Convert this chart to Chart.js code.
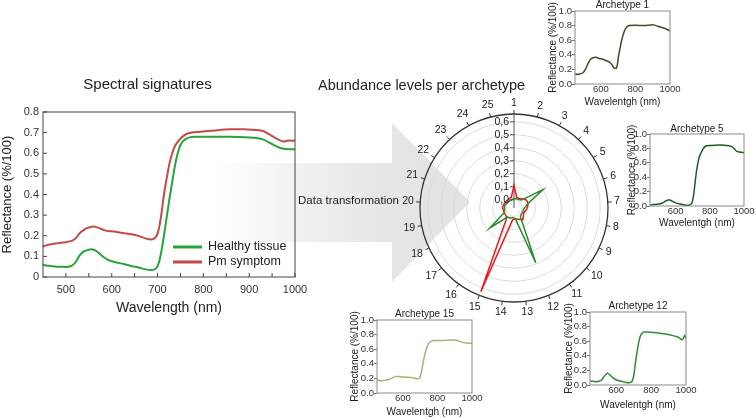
<!DOCTYPE html>
<html><head><meta charset="utf-8">
<script src="https://cdn.jsdelivr.net/npm/chart.js@4.4.1/dist/chart.umd.min.js"></script>
<style>
html,body{margin:0;padding:0;background:#fff;}
#root{position:relative;width:756px;height:419px;overflow:hidden;font-family:"Liberation Sans",Arial,sans-serif;color:#222;}
canvas{position:absolute;}
.txt{position:absolute;white-space:nowrap;}
#arrow{position:absolute;left:215px;top:123px;width:255px;height:159px;
 clip-path:polygon(0 40px,177px 40px,177px 0,255px 79px,177px 159px,177px 119px,0 119px);
 background:linear-gradient(to right,#ffffff 0%,#f0f0f0 35%,#e6e6e6 65%,#e2e2e2 100%);}
</style></head>
<body>
<div id="root">
  <div id="arrow"></div>
  <canvas id="main" width="318" height="250" style="left:0px;top:70px"></canvas>
  <canvas id="radar" width="240" height="240" style="left:394px;top:88px"></canvas>
  <canvas id="a1"></canvas>
  <canvas id="a5"></canvas>
  <canvas id="a15"></canvas>
  <canvas id="a12"></canvas>
  <div class="txt" style="left:318px;top:77px;font-size:14.5px;line-height:16px;">Abundance levels per archetype</div>
  <div class="txt" style="left:298px;top:193px;font-size:11.5px;line-height:14px;">Data transformation</div>
</div>
<script>
// ---------------- DATA ----------------
const wavelengths   = [450,460,470,480,490,500,510,515,520,525,530,540,550,556,565,575,585,595,605,620,640,660,675,685,692,698,703,708,714,720,726,732,738,744,750,756,762,770,780,800,830,860,890,910,925,935,945,955,965,975,985,1000];
const healthyTissue = [0.058,0.055,0.052,0.050,0.050,0.049,0.052,0.058,0.068,0.085,0.105,0.125,0.132,0.134,0.128,0.110,0.092,0.080,0.074,0.066,0.055,0.045,0.037,0.034,0.036,0.045,0.07,0.12,0.2,0.29,0.38,0.46,0.54,0.6,0.64,0.66,0.67,0.677,0.68,0.68,0.68,0.68,0.678,0.675,0.67,0.662,0.65,0.638,0.628,0.622,0.62,0.62];
const pmSymptom     = [0.148,0.155,0.16,0.163,0.166,0.169,0.174,0.178,0.185,0.197,0.212,0.23,0.24,0.244,0.243,0.235,0.226,0.222,0.221,0.215,0.208,0.198,0.186,0.182,0.186,0.2,0.235,0.3,0.4,0.48,0.55,0.6,0.635,0.655,0.67,0.683,0.692,0.698,0.702,0.706,0.712,0.716,0.716,0.713,0.71,0.703,0.69,0.677,0.665,0.657,0.662,0.66];
const mainXTicks = [500,550,600,650,700,750,800,850,900,950,1000];
const mainYTicks = [0,0.1,0.2,0.3,0.4,0.5,0.6,0.7,0.8];

const archetypeLabels  = ['1','2','3','4','5','6','7','8','9','10','11','12','13','14','15','16','17','18','19','20','21','22','23','24','25'];
const abundanceHealthy = [0.01,0.01,0.01,0.02,0.20,0.05,0.02,0.01,0.01,0.01,0.02,0.39,0.02,0.01,0.02,0.02,0.18,0.02,0.01,0.01,0.01,0.0,0.0,0.0,0.0];
const abundancePm      = [0.11,0.02,0.02,0.03,0.05,0.05,0.04,0.03,0.02,0.03,0.05,0.03,0.02,0.03,0.63,0.03,0.02,0.02,0.02,0.025,0.02,0.015,0.015,0.015,0.02];
const radarTicks = [0,0.1,0.2,0.3,0.4,0.5,0.6];
const radarMin = -0.064, radarMax = 0.66;

const arch1Wl   = [450,465,480,495,510,525,540,555,570,590,610,630,650,665,675,688,695,702,712,720,735,750,765,800,850,880,905,930,960,980,1000];
const arch1Refl = [0.14,0.13,0.14,0.15,0.2,0.28,0.34,0.36,0.365,0.35,0.34,0.32,0.3,0.26,0.22,0.215,0.26,0.38,0.5,0.6,0.72,0.78,0.8,0.805,0.8,0.805,0.81,0.79,0.77,0.75,0.73];
const arch5Wl   = [450,470,490,510,530,545,557,570,585,605,625,650,675,694,705,715,723,735,745,760,775,800,830,860,900,928,945,957,975,1000];
const arch5Refl = [0.014,0.02,0.023,0.03,0.05,0.075,0.085,0.08,0.06,0.04,0.028,0.015,0.01,0.035,0.15,0.35,0.5,0.65,0.72,0.79,0.83,0.84,0.845,0.847,0.84,0.825,0.79,0.76,0.75,0.74];
const arch15Wl   = [450,465,480,500,518,535,556,575,595,620,643,665,682,697,708,720,735,749,765,778,810,836,865,894,920,952,975,1000];
const arch15Refl = [0.18,0.17,0.17,0.175,0.185,0.2,0.227,0.225,0.218,0.215,0.214,0.205,0.195,0.205,0.3,0.45,0.6,0.68,0.71,0.72,0.72,0.72,0.725,0.727,0.715,0.69,0.685,0.68];
const arch12Wl   = [450,470,488,505,517,532,550,565,580,603,630,661,680,690,700,710,718,728,737,748,760,790,814,850,890,920,948,965,977,985,992,1000];
const arch12Refl = [0.055,0.05,0.045,0.055,0.068,0.12,0.16,0.136,0.1,0.068,0.05,0.032,0.035,0.045,0.12,0.3,0.43,0.57,0.66,0.71,0.727,0.723,0.72,0.71,0.695,0.68,0.66,0.64,0.62,0.64,0.68,0.64];
const miniXTicks = [600,800,1000];
const miniYTicks = [0,0.2,0.4,0.6,0.8,1.0];

// ---------------- HELPERS ----------------
const FONT = '"Liberation Sans", Arial, sans-serif';
const pts = (xs, ys) => xs.map((x, i) => ({x: x, y: ys[i]}));
const setTicks = arr => s => { s.ticks = arr.map(v => ({value: v})); };

const boxPlugin = {
  id: 'boxPlugin',
  afterDraw(chart, args, o) {
    const {ctx, chartArea: a, scales} = chart;
    ctx.save();
    ctx.strokeStyle = o.color; ctx.lineWidth = o.width;
    ctx.strokeRect(a.left, a.top, a.right - a.left, a.bottom - a.top);
    if (o.tickLen) {
      ctx.beginPath();
      scales.x.ticks.forEach(t => { const px = scales.x.getPixelForValue(t.value); ctx.moveTo(px, a.bottom); ctx.lineTo(px, a.bottom - o.tickLen); });
      scales.y.ticks.forEach(t => { const py = scales.y.getPixelForValue(t.value); ctx.moveTo(a.left, py); ctx.lineTo(a.left + o.tickLen, py); });
      ctx.stroke();
    }
    ctx.restore();
  }
};

const legendPlugin = {
  id: 'inLegend',
  afterDraw(chart, args, o) {
    const ctx = chart.ctx;
    ctx.save();
    ctx.font = o.font; ctx.textBaseline = 'middle'; ctx.textAlign = 'left'; ctx.fillStyle = '#222';
    chart.data.datasets.forEach((ds, i) => {
      const y = o.y + i * o.dy;
      ctx.strokeStyle = ds.borderColor; ctx.lineWidth = 3;
      ctx.beginPath(); ctx.moveTo(o.x, y); ctx.lineTo(o.x + o.len, y); ctx.stroke();
      ctx.fillText(ds.label, o.x + o.len + 6, y);
    });
    ctx.restore();
  }
};

const radarDeco = {
  id: 'radarDeco',
  afterDraw(chart) {
    const s = chart.scales.r, ctx = chart.ctx;
    const R = s.drawingArea, cx = s.xCenter, cy = s.yCenter;
    ctx.save();
    ctx.strokeStyle = '#333'; ctx.lineWidth = 1; ctx.fillStyle = '#222';
    ctx.font = '10.5px ' + FONT; ctx.textAlign = 'center'; ctx.textBaseline = 'middle';
    chart.data.labels.forEach((lab, i) => {
      const p1 = s.getPointPosition(i, R), p2 = s.getPointPosition(i, R + 4);
      ctx.beginPath(); ctx.moveTo(p1.x, p1.y); ctx.lineTo(p2.x, p2.y); ctx.stroke();
      const ang = i * 2 * Math.PI / chart.data.labels.length;
      const hw = ctx.measureText(lab).width / 2, hh = 4.5;
      const d = R + 6 + Math.abs(Math.sin(ang)) * hw + Math.abs(Math.cos(ang)) * hh;
      const p = s.getPointPosition(i, d);
      ctx.fillText(lab, p.x, p.y);
    });
    ctx.textAlign = 'right'; ctx.strokeStyle = '#555';
    radarTicks.forEach(v => {
      const y = cy - s.getDistanceFromCenterForValue(v);
      ctx.beginPath(); ctx.moveTo(cx - 4, y); ctx.lineTo(cx, y); ctx.stroke();
      ctx.fillText(v.toFixed(1).replace('.', ','), cx - 5, y);
    });
    ctx.restore();
  }
};

// ---------------- MAIN CHART ----------------
new Chart(document.getElementById('main'), {
  type: 'line',
  data: { datasets: [
    {label: 'Healthy tissue', data: pts(wavelengths, healthyTissue), borderColor: '#26a33b', borderWidth: 2, pointRadius: 0, tension: 0.3, fill: false},
    {label: 'Pm symptom', data: pts(wavelengths, pmSymptom), borderColor: '#c24b49', borderWidth: 2, pointRadius: 0, tension: 0.3, fill: false}
  ]},
  plugins: [boxPlugin, legendPlugin],
  options: {
    responsive: false, animation: false, events: [],
    layout: {padding: {left: 0, right: 23, top: 0, bottom: 0}},
    plugins: {
      legend: {display: false}, tooltip: {enabled: false},
      title: {display: true, text: 'Spectral signatures', color: '#222', font: {family: FONT, size: 15, weight: 'normal'}, padding: {top: 6, bottom: 18}},
      boxPlugin: {color: '#444', width: 1, tickLen: 4},
      inLegend: {x: 173, y: 177, dy: 15, len: 29, font: '12.5px ' + FONT}
    },
    scales: {
      x: {type: 'linear', min: 450, max: 1000,
          afterBuildTicks: setTicks(mainXTicks), afterFit: s => { s.height = 43; },
          ticks: {callback: v => (v % 100 === 0 ? String(v) : ''), color: '#333', font: {family: FONT, size: 11}, padding: 6, maxRotation: 0, autoSkip: false},
          grid: {display: false, drawTicks: false}, border: {display: false},
          title: {display: true, text: 'Wavelength (nm)', color: '#222', font: {family: FONT, size: 14}, padding: {top: 0, bottom: 3.6}}},
      y: {type: 'linear', min: 0, max: 0.8,
          afterBuildTicks: setTicks(mainYTicks), afterFit: s => { s.width = 43; },
          ticks: {callback: v => (v === 0 ? '0' : v.toFixed(1)), color: '#333', font: {family: FONT, size: 11}, padding: 4, autoSkip: false},
          grid: {display: false, drawTicks: false}, border: {display: false},
          title: {display: true, text: 'Reflectance (%/100)', color: '#222', font: {family: FONT, size: 13, lineHeight: 1}, padding: {top: 1, bottom: 0}}}
    }
  }
});

// ---------------- RADAR ----------------
new Chart(document.getElementById('radar'), {
  type: 'radar',
  data: { labels: archetypeLabels, datasets: [
    {label: 'Healthy tissue', data: abundanceHealthy, borderColor: '#2b8a2b', borderWidth: 1.5, fill: false, pointRadius: 0, tension: 0},
    {label: 'Pm symptom', data: abundancePm, borderColor: '#e8191f', borderWidth: 1.5, fill: false, pointRadius: 0, tension: 0}
  ]},
  plugins: [radarDeco],
  options: {
    responsive: false, animation: false, events: [],
    layout: {padding: 26},
    plugins: {legend: {display: false}, tooltip: {enabled: false}},
    scales: { r: {
      min: radarMin, max: radarMax, startAngle: 0,
      afterBuildTicks: setTicks(radarTicks.concat([radarMax])),
      ticks: {display: false},
      pointLabels: {display: false},
      grid: {circular: true,
             color: c => (c.index === radarTicks.length ? '#333' : '#dadada'),
             lineWidth: c => (c.index === radarTicks.length ? 1.3 : 1)},
      angleLines: {display: true, color: c => (c.index === 0 ? '#555' : 'rgba(0,0,0,0)'), lineWidth: 1}
    }}
  }
});

// ---------------- ARCHETYPE MINI CHARTS ----------------
function mini(id, o) {
  const YW = Math.round(o.l - o.yTitleX + 5);
  const TH = Math.max(10, Math.round(o.t - o.titleY + 5));
  const XH = Math.round(o.xTitleY - o.b + 5);
  const PR = 12;
  const cv = document.getElementById(id);
  cv.width = Math.round(o.r - o.l) + YW + PR;
  cv.height = Math.round(o.b - o.t) + TH + XH;
  cv.style.left = (Math.round(o.l) - YW) + 'px';
  cv.style.top = (Math.round(o.t) - TH) + 'px';
  new Chart(cv, {
    type: 'line',
    data: { datasets: [{label: o.title, data: pts(o.wl, o.refl), borderColor: o.color, borderWidth: 1.5, pointRadius: 0, tension: 0.2, fill: false}] },
    plugins: [boxPlugin],
    options: {
      responsive: false, animation: false, events: [],
      layout: {padding: {left: 0, right: PR, top: 0, bottom: 0}},
      plugins: {
        legend: {display: false}, tooltip: {enabled: false},
        title: {display: true, text: o.title, fullSize: false, color: '#222', font: {family: FONT, size: 10, weight: 'normal', lineHeight: 1}, padding: {top: 0, bottom: TH - 10}},
        boxPlugin: {color: '#8a8a8a', width: 1, tickLen: 0}
      },
      scales: {
        x: {type: 'linear', min: 450, max: 1000,
            afterBuildTicks: setTicks(miniXTicks), afterFit: s => { s.height = XH; },
            ticks: {callback: v => String(v), color: '#333', font: {family: FONT, size: 9.5}, padding: 0, maxRotation: 0, autoSkip: false},
            grid: {display: false, drawTicks: false}, border: {display: false},
            title: {display: true, text: 'Wavelentgh (nm)', color: '#222', font: {family: FONT, size: 10, lineHeight: 1}, padding: {top: 0, bottom: 0}}},
        y: {type: 'linear', min: 0, max: 1,
            afterBuildTicks: setTicks(miniYTicks), afterFit: s => { s.width = YW; },
            ticks: {callback: v => v.toFixed(1), color: '#333', font: {family: FONT, size: 9.5}, padding: 0, autoSkip: false},
            grid: {display: true, drawOnChartArea: false, drawTicks: true, tickLength: 3, color: '#777'}, border: {display: false},
            title: {display: true, text: 'Reflectance (%/100)', color: '#222', font: {family: FONT, size: 10, lineHeight: 1}, padding: {top: 0, bottom: 0}}}
      }
    }
  });
}
mini('a1',  {l: 575, r: 670, t: 11,  b: 84,  titleY: 5.3,   yTitleX: 552.7, xTitleY: 101.7, title: 'Archetype 1',  wl: arch1Wl,  refl: arch1Refl,  color: '#3f4f24'});
mini('a5',  {l: 650, r: 744, t: 134, b: 206, titleY: 130,   yTitleX: 631.7, xTitleY: 223.3, title: 'Archetype 5',  wl: arch5Wl,  refl: arch5Refl,  color: '#1e5c22'});
mini('a15', {l: 377, r: 472, t: 320, b: 393, titleY: 314,   yTitleX: 355,   xTitleY: 411.7, title: 'Archetype 15', wl: arch15Wl, refl: arch15Refl, color: '#a3b47a'});
mini('a12', {l: 590, r: 686, t: 312, b: 385, titleY: 305.7, yTitleX: 569.2, xTitleY: 405,   title: 'Archetype 12', wl: arch12Wl, refl: arch12Refl, color: '#2e8c35'});
</script>
</body></html>
